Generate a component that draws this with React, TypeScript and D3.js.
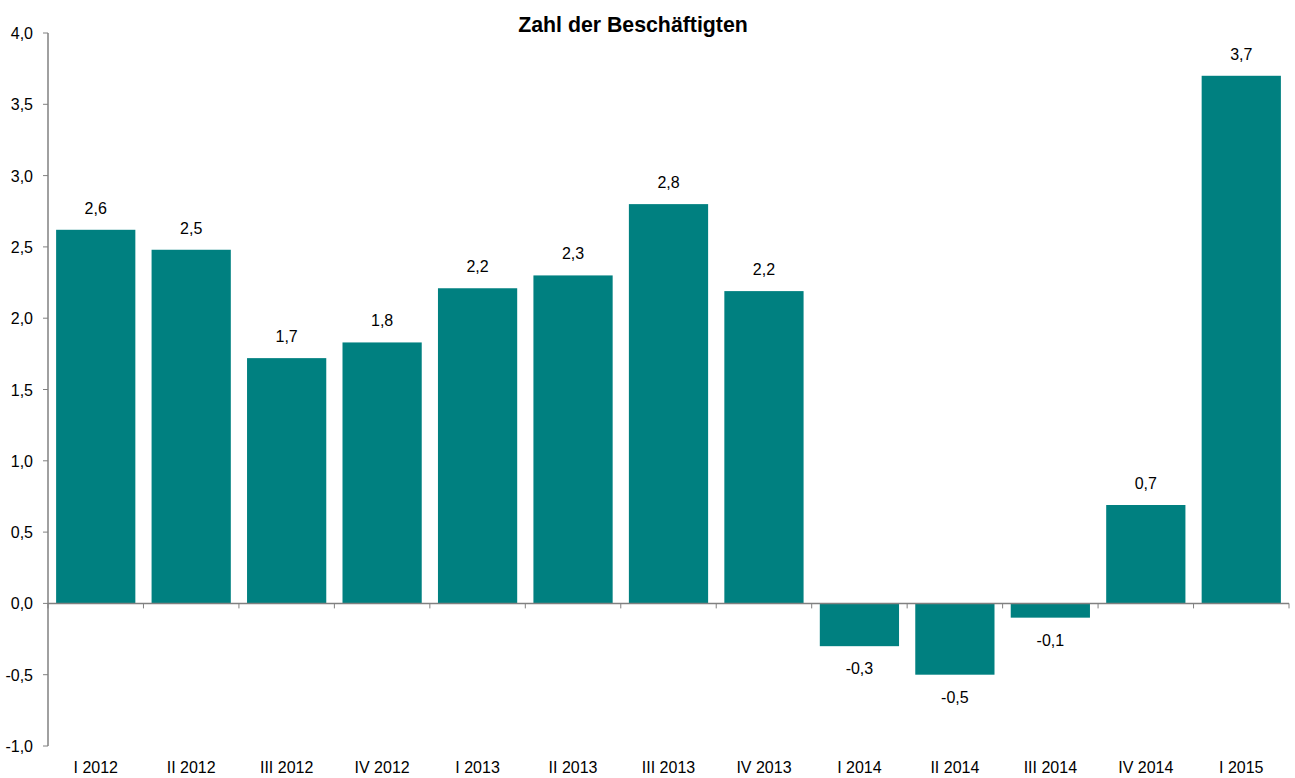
import React from "react";
import * as d3 from "d3";

const categories = ["I 2012","II 2012","III 2012","IV 2012","I 2013","II 2013","III 2013","IV 2013","I 2014","II 2014","III 2014","IV 2014","I 2015"];
const values = [2.62, 2.48, 1.72, 1.83, 2.21, 2.30, 2.80, 2.19, -0.30, -0.50, -0.10, 0.69, 3.70];
const labels = ["2,6","2,5","1,7","1,8","2,2","2,3","2,8","2,2","-0,3","-0,5","-0,1","0,7","3,7"];
const yTicks = [-1, -0.5, 0, 0.5, 1, 1.5, 2, 2.5, 3, 3.5, 4];
const title = "Zahl der Beschäftigten";

const W = 1295, H = 778;
const left = 48, right = 1289, top = 33, bottom = 746;
const font = "'Liberation Sans', Arial, sans-serif";

export default function App() {
  const x = d3.scaleBand<string>().domain(categories).range([left, right]).paddingInner(0.17).paddingOuter(0.085);
  const y = d3.scaleLinear().domain([-1, 4]).range([bottom, top]);
  const fmt = (v: number) => v.toFixed(1).replace(".", ",");
  const y0 = y(0);
  const step = x.step();
  const axisColor = "#808080";
  return (
    <svg width={W} height={H} style={{ position: "absolute", left: 0, top: 0, background: "#fff" }} fontFamily={font}>
      <text x={633} y={32} textAnchor="middle" fontSize={21.3} fontWeight="bold" fill="#000">{title}</text>
      {categories.map((c, i) => {
        const v = values[i];
        const bx = x(c)!;
        const bw = x.bandwidth();
        const yt = y(Math.max(v, 0));
        const yb = y(Math.min(v, 0));
        return (
          <g key={c}>
            <rect x={bx} y={yt} width={bw} height={yb - yt} fill="#008080" />
            <text x={bx + bw / 2} y={v >= 0 ? yt - 16 : yb + 28} textAnchor="middle" fontSize={16} fill="#000">{labels[i]}</text>
            <text x={bx + bw / 2} y={773} textAnchor="middle" fontSize={16} fill="#000">{c}</text>
          </g>
        );
      })}
      <line x1={left} x2={left} y1={top} y2={bottom} stroke={axisColor} strokeWidth={1.5} />
      {yTicks.map(t => (
        <g key={t}>
          <line x1={left - 5} x2={left} y1={y(t)} y2={y(t)} stroke={axisColor} strokeWidth={1} />
          <text x={left - 15} y={y(t) + 6} textAnchor="end" fontSize={16} fill="#000">{fmt(t)}</text>
        </g>
      ))}
      <line x1={left} x2={right} y1={y0} y2={y0} stroke={axisColor} strokeWidth={1.5} />
      {d3.range(categories.length + 1).map(i => (
        <line key={i} x1={left + i * step} x2={left + i * step} y1={y0} y2={y0 + 5} stroke={axisColor} strokeWidth={1} />
      ))}
    </svg>
  );
}
